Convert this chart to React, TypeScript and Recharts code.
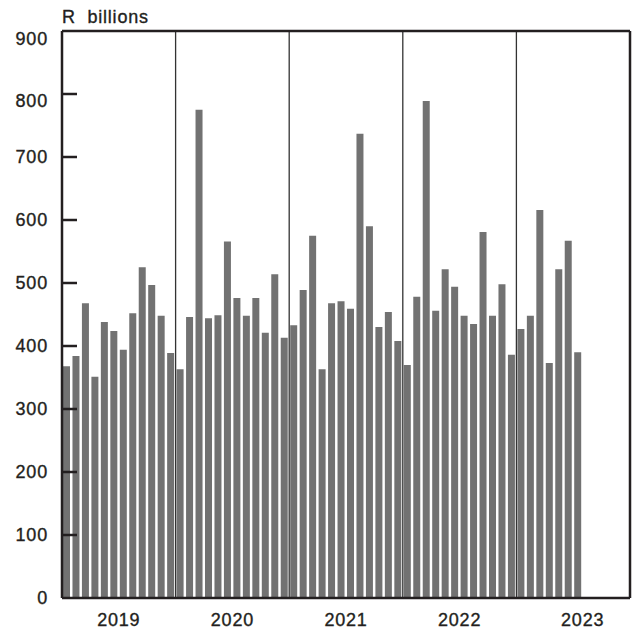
import { BarChart, Bar, XAxis, YAxis, ReferenceLine } from 'recharts'

const years = ['2019', '2020', '2021', '2022', '2023']
const monthNames = ['Jan', 'Feb', 'Mar', 'Apr', 'May', 'Jun', 'Jul', 'Aug', 'Sep', 'Oct', 'Nov', 'Dec']

// Monthly values, R billions
const values2019 = [368, 384, 468, 351, 438, 424, 394, 452, 525, 497, 448, 389]
const values2020 = [363, 446, 775, 444, 449, 566, 476, 448, 476, 421, 514, 413]
const values2021 = [433, 489, 575, 363, 468, 471, 459, 737, 590, 430, 454, 408]
const values2022 = [370, 478, 789, 456, 522, 494, 448, 435, 581, 448, 498, 386]
const values2023 = [427, 448, 616, 373, 522, 567, 390, null, null, null, null, null]

const yTicks = [0, 100, 200, 300, 400, 500, 600, 700, 800, 900]
const yearBreaks = [12, 24, 36, 48]
const yearLabelPos = [6, 18, 30, 42, 55]

const allValues = [values2019, values2020, values2021, values2022, values2023]
// each month sits in the middle of its slot on a 0..60 month scale
const data = years.flatMap((yr, i) =>
  monthNames.map((m, j) => ({ month: `${m} ${yr}`, pos: i * 12 + j + 0.5, value: allValues[i][j] }))
)

const INK = '#231f20'
const FONT = '"Liberation Sans", Arial, sans-serif'

// the two top labels sit a little below their ticks in the original
const labelDrop: Record<number, number> = { 900: 8, 800: 7 }

function YTick({ x, y, payload }: any) {
  const v = Number(payload.value)
  const tx = Number(x)
  const ty = Number(y)
  return (
    <g>
      {v > 0 && v < 900 && (
        <path d={`M${tx + 14},${ty}h15`} stroke={INK} strokeWidth={2.5} fill="none" />
      )}
      <text
        x={tx}
        y={ty}
        dy={6 + (labelDrop[v] ?? 0)}
        textAnchor="end"
        fontSize={18}
        letterSpacing={0.8}
        fontFamily={FONT}
        fill={INK}
        stroke={INK}
        strokeWidth={0.35}
      >
        {v}
      </text>
    </g>
  )
}

export default function App() {
  return (
    <div style={{ position: 'absolute', left: 0, top: 0, width: 635, height: 634, background: '#fff' }}>
      <div
        style={{
          position: 'absolute',
          left: 62,
          top: 7,
          fontFamily: FONT,
          fontSize: 18,
          letterSpacing: 0.8,
          lineHeight: '20px',
          color: INK,
          WebkitTextStroke: '0.35px ' + INK,
          whiteSpace: 'pre',
        }}
      >
        R  billions
      </div>
      <BarChart
        width={635}
        height={634}
        data={data}
        margin={{ top: 31, right: 5, bottom: 6, left: 0 }}
      >
        <XAxis
          dataKey="pos"
          type="number"
          domain={[0, 60]}
          allowDataOverflow
          ticks={yearLabelPos}
          tickFormatter={(v: number) => years[yearLabelPos.indexOf(v)] ?? ''}
          axisLine={{ stroke: INK, strokeWidth: 2.5 }}
          tickLine={false}
          tickSize={6}
          tickMargin={9}
          height={30}
          tick={{ fontSize: 18, fill: INK, fontFamily: FONT, letterSpacing: 0.8, stroke: INK, strokeWidth: 0.35 }}
        />
        <YAxis
          domain={[0, 900]}
          ticks={yTicks}
          width={62}
          axisLine={{ stroke: INK, strokeWidth: 2.5 }}
          tickLine={false}
          tickSize={0}
          tickMargin={14}
          tick={<YTick />}
        />
        <Bar dataKey="value" fill="#727272" barSize={7} isAnimationActive={false} />
        {yearBreaks.map((b) => (
          <ReferenceLine key={b} x={b} stroke="#333" strokeWidth={1.3} />
        ))}
        <ReferenceLine y={900} stroke={INK} strokeWidth={2.5} />
        <ReferenceLine x={60} stroke={INK} strokeWidth={2.5} />
      </BarChart>
    </div>
  )
}
